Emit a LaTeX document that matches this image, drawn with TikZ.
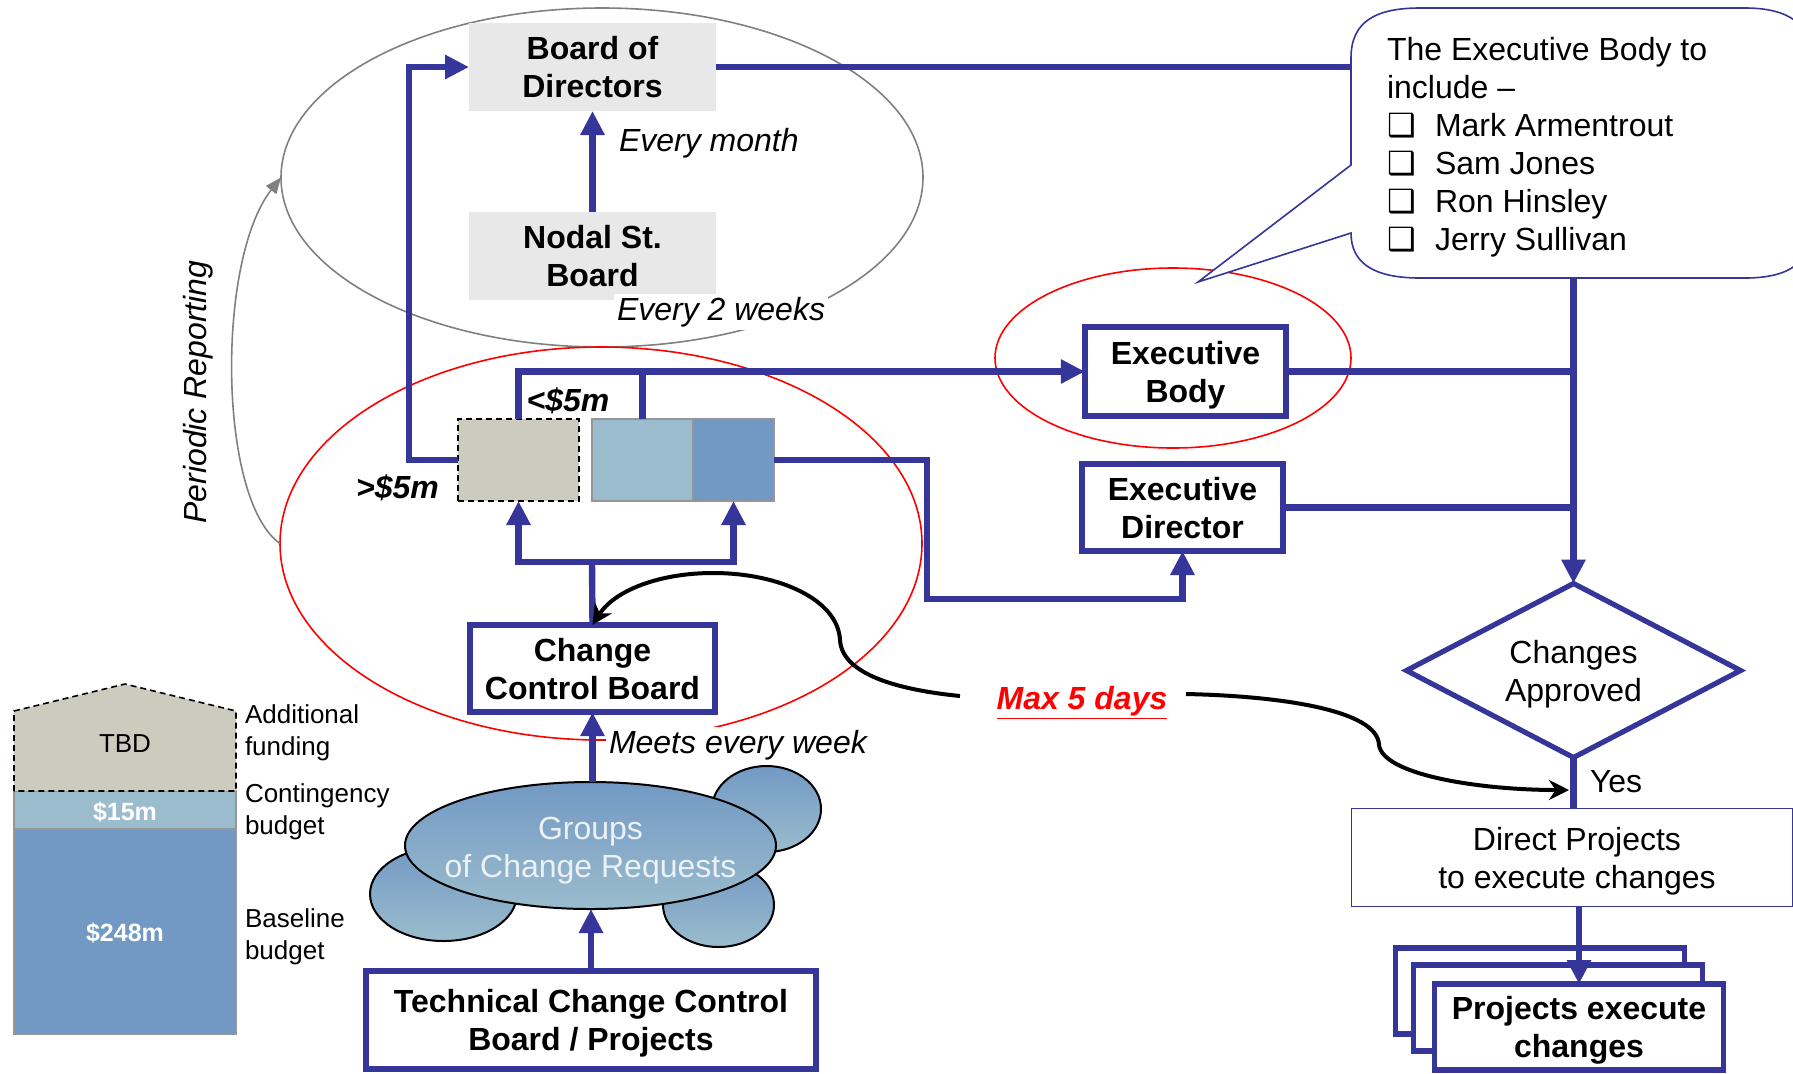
\documentclass[tikz,border=0pt]{standalone}
\usepackage{fontspec}
\setmainfont{Liberation Sans}
\newfontfamily\symfont{DejaVu Sans}
\usetikzlibrary{arrows.meta,shapes.geometric}

\definecolor{flowblue}{RGB}{53,53,154}
\definecolor{ovalgrey}{RGB}{128,128,128}
\definecolor{boardgrey}{RGB}{232,232,232}
\definecolor{tbdfill}{RGB}{203,204,189}
\definecolor{lightblue}{RGB}{155,188,205}
\definecolor{darkblue}{RGB}{114,153,196}
\definecolor{edgegrey}{RGB}{150,150,150}
\definecolor{cloudtext}{RGB}{236,241,246}

\newcommand{\fs}{\fontsize{16pt}{19pt}\selectfont}
\newcommand{\fsm}{\fontsize{13pt}{16pt}\selectfont}
\newcommand{\chk}{\makebox[24pt][l]{{\symfont ❑}}}

\begin{document}
\begin{tikzpicture}[x=0.5pt,y=-0.5pt,
  every node/.style={outer sep=0pt},
  flow/.style={draw=flowblue, line width=3.2pt},
  flowarr/.style={flow, -{Triangle[length=12pt,width=11.5pt]}},
  bluebox/.style={draw=flowblue, line width=2.8pt, fill=white, inner sep=0pt,
                  align=center, font=\fs\bfseries, text depth=0pt},
  greybox/.style={fill=boardgrey, inner sep=0pt, align=center, font=\fs\bfseries,
                  minimum width=123.5pt, minimum height=44pt, text depth=0pt},
  oval/.style={ellipse, inner sep=0pt, line width=0.8pt},
  lbl/.style={font=\fs\itshape, inner sep=1.5pt},
  amt/.style={font=\fs\bfseries\itshape, inner sep=0pt},
  side/.style={font=\fsm, align=left, anchor=west, inner sep=0pt},
  chip/.style={line width=0.8pt, inner sep=0pt, minimum height=41pt},
  puff/.style={draw=black, line width=1pt, top color=darkblue, bottom color=lightblue},
  stackbox/.style={draw=flowblue, line width=2.8pt, fill=white, inner sep=0pt,
                   minimum width=144.5pt, minimum height=43pt},
  memo/.style={font=\fs, anchor=base west, inner sep=0pt},
  blk/.style={draw=black, line width=2pt, -{Stealth[length=10pt,width=10pt]}}
]
\useasboundingbox (0,0) rectangle (1793,1073);

% ---------- grouping ovals ----------
\node[oval, draw=ovalgrey, minimum width=321pt, minimum height=169.5pt] (topoval) at (602,177.5) {};
\node[oval, draw=red, minimum width=321pt, minimum height=196.5pt] (ccboval) at (601,543.5) {};
\node[oval, draw=red, minimum width=178pt, minimum height=90pt] (eboval) at (1173,358) {};

% ---------- budget column ----------
\draw[draw=edgegrey, fill=lightblue, line width=0.6pt] (14,791) rectangle (236,829);
\draw[draw=edgegrey, fill=darkblue, line width=0.6pt] (14,829) rectangle (236,1034);
\draw[dash pattern=on 3pt off 2pt, fill=tbdfill, line width=0.8pt]
  (14,791) -- (14,711) -- (125,684) -- (236,711) -- (236,791) -- cycle;
\node[font=\fsm, inner sep=0pt] (tbd) at (125,744) {TBD};
\node[font=\fontsize{12.5pt}{15pt}\selectfont\bfseries, text=white, inner sep=0pt] (cont) at (125,812) {\$15m};
\node[font=\fontsize{12.5pt}{15pt}\selectfont\bfseries, text=white, inner sep=0pt] (base) at (125,933) {\$248m};
\node[side] (addlbl) at (245,733) {Additional\\funding};
\node[side] (contlbl) at (245,812) {Contingency\\budget};
\node[side] (baselbl) at (245,937) {Baseline\\budget};

% ---------- boards ----------
\node[greybox] (board) at (592.5,67) {Board of\\Directors};
\node[greybox] (nodal) at (592.5,256) {Nodal St.\\Board};

\node[bluebox, minimum width=100.7pt, minimum height=44.7pt] (eb) at (1185.5,371.5) {Executive\\Body};
\node[bluebox, minimum width=100.5pt, minimum height=43.5pt] (ed) at (1182.5,507.5) {Executive\\Director};
\node[bluebox, minimum width=122.7pt, minimum height=43.7pt] (ccb) at (592.5,668.5) {Change\\Control Board};
\node[bluebox, minimum width=225.2pt, minimum height=49.2pt] (tccb) at (591,1020) {Technical Change Control\\Board / Projects};

% ---------- threshold chips ----------
\node[chip, draw=black, dash pattern=on 3pt off 2pt, fill=tbdfill, minimum width=60.5pt] (dbox) at (518.5,460) {};
\node[chip, draw=edgegrey, fill=lightblue, minimum width=50.5pt] (lbox) at (642.5,460) {};
\node[chip, draw=edgegrey, fill=darkblue, minimum width=40.5pt] (kbox) at (733.5,460) {};

% ---------- change requests cloud ----------
\path[puff] (443.5,894) ellipse [x radius=36.75pt, y radius=23.5pt];
\path[puff] (718.5,905) ellipse [x radius=27.75pt, y radius=21pt];
\path[puff] (766.5,809) ellipse [x radius=27.25pt, y radius=21.5pt];
\node[ellipse, puff, inner sep=0pt, minimum width=185.5pt, minimum height=63.5pt] (crq) at (590.5,845.5) {};
\node[font=\fs, text=cloudtext, align=center, inner sep=0pt, text depth=0pt] (crqtext) at (590.5,847) {Groups\\of Change Requests};

% ---------- decision and execution ----------
\node[diamond, draw=flowblue, line width=2.6pt, aspect=1.9, inner sep=0pt,
      minimum width=167pt, minimum height=87pt, font=\fs, align=center, text depth=0pt] (dia) at (1573.5,670.5) {Changes\\Approved};
\node[draw=flowblue, line width=0.9pt, fill=white, minimum width=220.5pt, minimum height=49pt,
      inner sep=0pt, align=center, font=\fs, text depth=0pt] (dp) at (1572,857.5) {\hspace*{5pt}Direct Projects\\\hspace*{5pt}to execute changes};
\node[stackbox] (back) at (1540,991) {};
\node[stackbox] (mid) at (1558,1008) {};
\node[stackbox, font=\fs\bfseries, align=center, text depth=0pt] (front) at (1579,1027) {Projects execute\\changes};

% ---------- connectors ----------
\coordinate (lc) at (409,0);
\coordinate (j) at (592,562);
\coordinate (rc) at (927,599);

\draw[flowarr] (nodal.north) -- (board.south);
\draw[flowarr] (dbox.west) -| (lc |- board.west) -- (board.west);
\draw[flowarr] (dbox.north) |- (eb.west);
\draw[flow] (lbox.north) -- (lbox.north |- eb.west);
\draw[flow] (ccb.north) -- (j);
\draw[flowarr] (j) -| (dbox.south);
\draw[flowarr] (j) -| (kbox.south);
\draw[flowarr] (kbox.east) -| (rc) -| (ed.south);
\draw[flowarr] (crq.north -| ccb.south) -- (ccb.south);
\draw[flowarr] (tccb.north) -- (tccb.north |- crq.south);

\draw[flowarr] (board.east) -| (dia.north);
\draw[flow] (eb.east) -- (eb.east -| dia.north);
\draw[flow] (ed.east) -- (ed.east -| dia.north);
\draw[flow] (dia.south) -- (dia.south |- dp.north);
\draw[flowarr] (dp.south -| front.north) -- (front.north);

\draw[draw=ovalgrey, line width=0.8pt, -{Triangle[length=8pt,width=6.5pt]}]
  (ccboval.west) .. controls (218,500) and (216,260) .. (topoval.west);

% ---------- membership callout ----------
\draw[draw=flowblue, line width=0.8pt, fill=white]
  (1198,282) -- (1351,165) -- (1351,58)
  .. controls (1351,22) and (1375,8) .. (1420,8) -- (1745,8)
  .. controls (1790,8) and (1812,25) .. (1812,60) -- (1812,226)
  .. controls (1812,262) and (1790,278) .. (1745,278) -- (1420,278)
  .. controls (1372,278) and (1351,262) .. (1351,233) -- cycle;
\node[memo] (m1) at (1387,60) {The Executive Body to};
\node[memo] (m2) at (1387,98) {include –};
\node[memo] (m3) at (1387,136) {\chk Mark Armentrout};
\node[memo] (m4) at (1387,174) {\chk Sam Jones};
\node[memo] (m5) at (1387,212) {\chk Ron Hinsley};
\node[memo] (m6) at (1387,250) {\chk Jerry Sullivan};

% ---------- labels ----------
\node[lbl, anchor=west] (month) at (616,143.5) {Every month};
\node[lbl, anchor=west, fill=white] (weeks) at (614,312) {Every 2 weeks};
\node[lbl, anchor=west, fill=white] (weekly) at (606,745) {Meets every week};
\node[lbl, rotate=90] (periodic) at (198,392) {Periodic Reporting};
\node[amt] (lt5) at (568,401) {<\$5m};
\node[amt] (gt5) at (397.5,487.5) {>\$5m};
\node[font=\fs, anchor=west, inner sep=0pt] (yes) at (1590,782) {Yes};

% ---------- turnaround limit ----------
\node[font=\fs\bfseries\itshape, text=red, inner sep=0pt] (maxd) at (1082,703) {\underline{Max 5 days}};
\coordinate (yesjoin) at (1569,790);
\draw[blk] (960,696) .. controls (900,690) and (842,675) .. (840,640)
  .. controls (838,600) and (780,573) .. (713,573)
  .. controls (660,573) and (615,590) .. (ccb.north);
\draw[blk] (1186,694) .. controls (1280,696) and (1378,710) .. (1379,745)
  .. controls (1383,775) and (1480,790) .. (yesjoin);
\end{tikzpicture}
\end{document}
